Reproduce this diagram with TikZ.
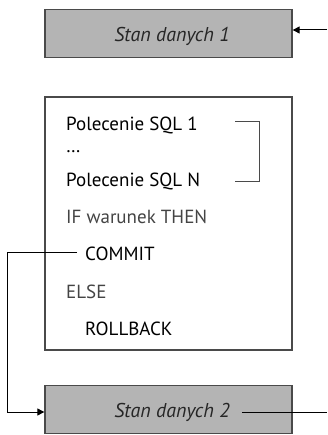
\documentclass[tikz,border=0pt]{standalone}
\usepackage{fontspec}
\setmainfont{PT Sans}
\usetikzlibrary{arrows.meta}
\definecolor{boxgray}{HTML}{B4B4B4}
\definecolor{edgegray}{HTML}{4A4A4A}
\definecolor{txtgray}{HTML}{444444}
\begin{document}
\begin{tikzpicture}[x=1pt,y=1pt,
  state/.style={draw=edgegray,line width=1.3pt,fill=boxgray,minimum width=247pt,minimum height=48pt,inner sep=0pt},
  code/.style={anchor=base west,inner sep=0pt,font=\fontsize{19}{22}\selectfont,text=black},
  codegray/.style={code,text=txtgray},
  label/.style={anchor=base,font=\itshape\fontsize{20}{24}\selectfont,text=black!85,inner ysep=0pt},
  conn/.style={line width=1pt,draw=black},
  tip/.style={-{Triangle[length=7pt,width=7pt]}}
]
\useasboundingbox (0,0) rectangle (327,-435);
% boxes
\node[state] (s1) at (168.5,-33.5) {};
\node[label,inner xsep=0pt] (t1) at (172,-42) {Stan danych 1};
\node[draw=edgegray,line width=1.3pt,minimum width=247pt,minimum height=253pt,inner sep=0pt] (blk) at (168.5,-223.5) {};
\node[state] (s2) at (168.5,-409.5) {};
\node[label,inner xsep=12pt] (t2) at (172,-417) {Stan danych 2};
% code lines
\node[code] (sql1) at (66,-131) {Polecenie SQL 1};
\node[code] (dots) at (66,-153) {\dots};
\node[code] (sqlN) at (66,-187) {Polecenie SQL N};
\node[codegray] (ifl) at (66,-223) {IF warunek THEN};
\node[code] (commit) at (85,-260) {COMMIT};
\node[codegray] (else) at (66,-298) {ELSE};
\node[code] (rb) at (85,-335) {ROLLBACK};
% bracket
\coordinate (b1) at (235,-122);
\coordinate (b2) at (235,-182);
\coordinate (bx) at (259,-150);
\draw[line width=1pt,draw=edgegray] (b1) -- (b1 -| bx) -- (b2 -| bx) -- (b2);
% connectors
\coordinate (r1) at (327,-30);
\coordinate (r2) at (327,-412);
\coordinate (lc) at (7,-252);
\draw[conn,tip] (r1) -- (r1 -| s1.east);
\draw[conn] (t2.east |- r2) -- (r2);
\draw[conn,tip,shorten <=8pt] (commit.west |- lc) -- (lc) |- (s2.west |- r2);
\end{tikzpicture}
\end{document}
